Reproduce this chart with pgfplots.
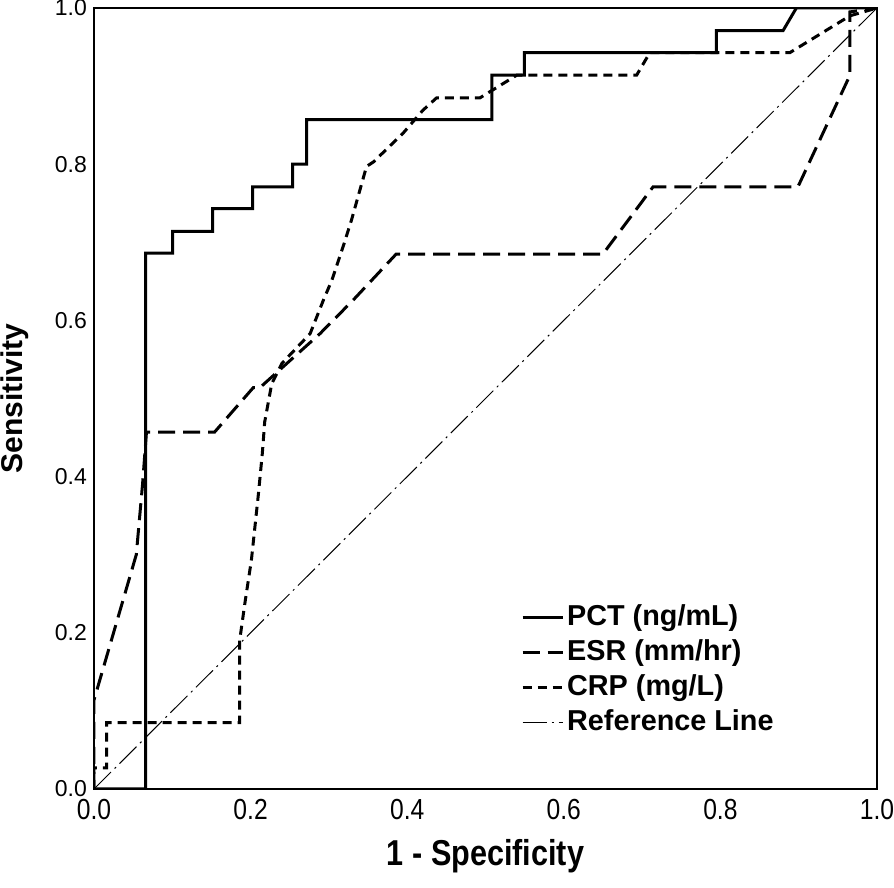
\documentclass[border=0pt]{standalone}
\usepackage{pgfplots}
\pgfplotsset{compat=1.18}
\usepackage{fontspec}
\setmainfont{Liberation Sans}
\newfontfamily\narrowfont[FakeStretch=0.85]{Liberation Sans}
\begin{document}
\begin{tikzpicture}
\begin{axis}[
  name=ax,
  scale only axis,
  width=391.5pt, height=390.5pt,
  xmin=0, xmax=1, ymin=0, ymax=1,
  axis line style={line width=1.3pt},
  xtick={0,0.2,0.4,0.6,0.8,1.0},
  ytick={0,0.2,0.4,0.6,0.8,1.0},
  major tick length=0pt,
  /pgf/number format/assume math mode=true,
  /pgf/number format/fixed,
  /pgf/number format/fixed zerofill,
  /pgf/number format/precision=1,
  xticklabel style={font=\narrowfont\fontsize{14.5}{16}\selectfont, yshift=-1.5pt},
  yticklabel style={font=\fontsize{11.5}{13}\selectfont},
  xlabel={1 - Specificity},
  ylabel={Sensitivity},
  xlabel style={font=\narrowfont\bfseries\fontsize{18}{20}\selectfont, at={(axis description cs:0.5,-0.086)}, anchor=center},
  ylabel style={font=\bfseries\fontsize{15}{17}\selectfont, at={(axis description cs:-0.101,0.5)}, anchor=center},
  legend style={at={(axis cs:0.545,0.241)}, anchor=north west, draw=none, fill=none, inner sep=0pt,
    font=\bfseries\fontsize{14.4}{17}\selectfont, row sep=1pt,
    nodes={text height=10.5pt, text depth=3pt, inner sep=1.5pt}},
  legend cell align=left,
  legend image code/.code={\draw[#1] (0pt,0pt) -- (20pt,0pt);},
]
% PCT
\addplot[black, line width=1.5pt] coordinates {
(0,0) (0.066,0) (0.066,0.686) (0.1005,0.686) (0.1005,0.714) (0.1515,0.714)
(0.1515,0.743) (0.2027,0.743) (0.2027,0.771) (0.2537,0.771) (0.2537,0.800)
(0.2716,0.800) (0.2716,0.857) (0.508,0.857) (0.508,0.914) (0.5496,0.914)
(0.5496,0.943) (0.795,0.943) (0.795,0.971) (0.880,0.971) (0.897,1.0) (1,1)};
\addlegendentry{PCT (ng/mL)}
% ESR
\addplot[black, line width=1.5pt, dash pattern=on 8.5pt off 4pt] coordinates {
(0,0) (0,0.114) (0.054,0.300) (0.062,0.390) (0.067,0.457) (0.154,0.457)
(0.2035,0.514) (0.212,0.514) (0.2886,0.583) (0.331,0.626) (0.386,0.685)
(0.650,0.685) (0.714,0.771) (0.899,0.771) (0.9655,0.914) (0.9655,0.995) (1,1)};
\addlegendentry{ESR (mm/hr)}
% CRP
\addplot[black, line width=1.5pt, dash pattern=on 4.5pt off 3pt] coordinates {
(0,0) (0,0.027) (0.016,0.027) (0.016,0.085) (0.186,0.085) (0.186,0.190)
(0.193,0.240) (0.201,0.293) (0.210,0.378) (0.215,0.430) (0.218,0.470)
(0.227,0.519) (0.240,0.545) (0.276,0.583) (0.293,0.626) (0.304,0.652)
(0.318,0.694) (0.329,0.729) (0.348,0.797) (0.357,0.803) (0.395,0.840)
(0.420,0.869) (0.4376,0.885) (0.493,0.885) (0.540,0.914) (0.693,0.914)
(0.710,0.943) (0.889,0.943) (0.9655,0.990) (1,1)};
\addlegendentry{CRP (mg/L)}
% Reference line
\addplot[black, line width=0.5pt, dash pattern=on 12pt off 2.5pt on 1pt off 2.5pt] coordinates {(0,0) (1,1)};
\addlegendentry{Reference Line}
\end{axis}
\pgfresetboundingbox
\path (ax.south west) ++(-47pt,-49.5pt) coordinate (bl);
\path (ax.north east) ++(8.5pt,4pt) coordinate (tr);
\path[use as bounding box] (bl) rectangle (tr);
\end{tikzpicture}
\end{document}
